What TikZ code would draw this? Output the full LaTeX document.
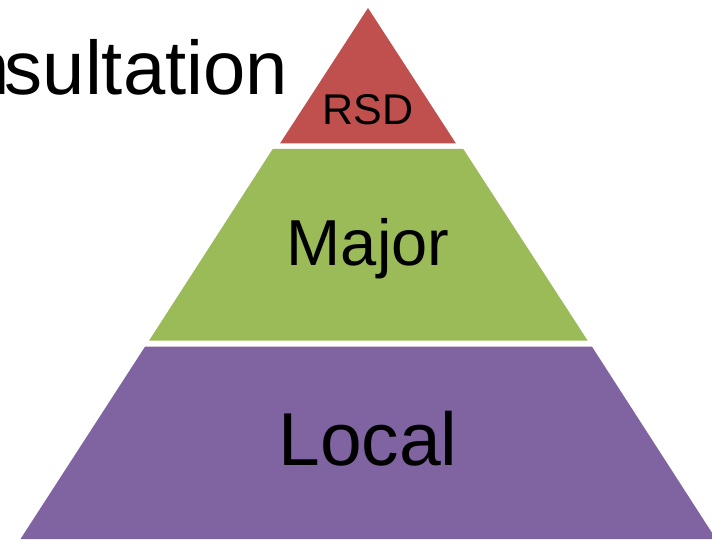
\documentclass[tikz,border=0pt]{standalone}
\usepackage{fontspec}
\setmainfont{Liberation Sans}
\usetikzlibrary{positioning}
\definecolor{rsdred}{HTML}{C0504D}
\definecolor{majorgreen}{HTML}{9BBB59}
\definecolor{localpurple}{HTML}{8064A2}

\begin{document}
\begin{tikzpicture}[x=1pt,y=1pt,
		lbl/.style={inner sep=0pt, anchor=base, text=black}]
		\useasboundingbox (0,0) rectangle (712,539);
		\clip (0,0) rectangle (712,539);

		\fill [rsdred] (368,531) -- (456,395.5) -- (280,395.5) -- cycle;
		\fill [majorgreen] (272.7,390) -- (463.3,390) -- (587.7,198.3) -- (149,198.3) -- cycle;
		\fill [localpurple] (145,192.3) -- (592,192.3) -- (716,0) -- (20.5,0) -- cycle;

		\draw (288,444) node [lbl, anchor=base east, font=\fontsize{76}{80}\selectfont] (title) {n\kern-5pt sultation};
		\draw (368,414) node [lbl, font=\fontsize{43}{46}\selectfont] (rsd) {RSD};
		\draw (368,273.3) node [lbl, font=\fontsize{65}{70}\selectfont] (major) {Major};
		\draw (368,73.3) node [lbl, font=\fontsize{75}{80}\selectfont] (local) {Local};
	\end{tikzpicture}
\end{document}
